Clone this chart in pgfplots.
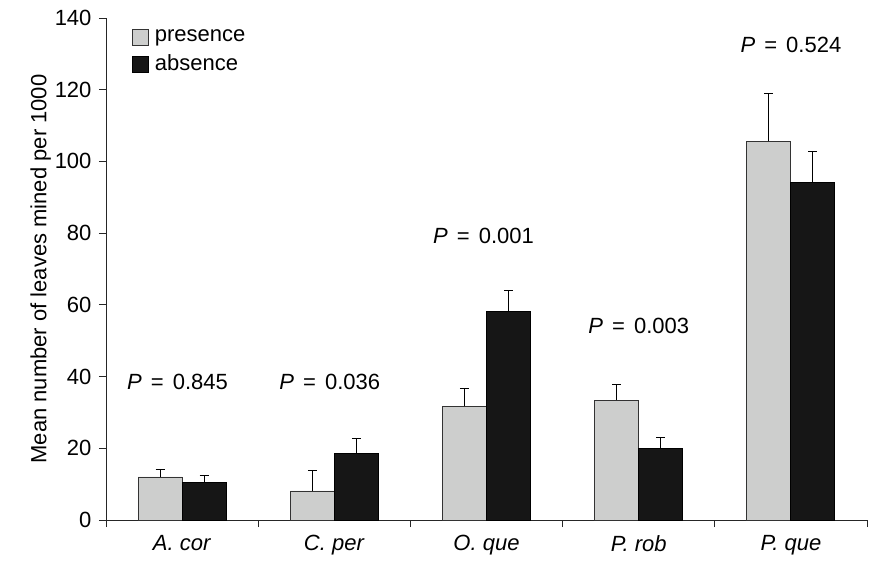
\documentclass[border=0pt]{standalone}
\usepackage{pgfplots}
\pgfplotsset{compat=1.18}
\usepackage{fontspec}
\setmainfont{Liberation Sans}
\definecolor{pres}{HTML}{CDCECD}
\definecolor{absc}{HTML}{161616}
\newcommand{\Pv}[1]{\textit{P}\hspace{3bp} = \hspace{3bp}#1}
\begin{document}
\fontsize{22bp}{26bp}\selectfont
\begin{tikzpicture}
\begin{axis}[
  scale only axis, width=761bp, height=502bp,
  xmin=-0.5, xmax=4.5, ymin=0, ymax=140,
  axis lines=left, axis line style={-, line width=0.9bp, color=black!85},
  ytick={0,20,...,140},
  tick align=outside, major tick length=7bp,
  tick style={line width=0.9bp, color=black!85},
  xtick={-0.5,0.5,...,4.5}, xticklabels={},
  extra x ticks={0,1,2,3,4},
  extra x tick labels={\textit{A. cor},\textit{C. per},\textit{O. que},\textit{P. rob},\textit{P. que}},
  extra x tick style={major tick length=0pt, xticklabel style={yshift=-8bp}},
  ylabel={Mean number of leaves mined per 1000},
  ylabel style={yshift=-11bp},
  ybar=0pt, bar width=44bp,
  /pgf/number format/assume math mode=true,
  tick label style={font=\fontsize{22bp}{26bp}\selectfont},
  label style={font=\fontsize{22bp}{26bp}\selectfont},
  legend style={at={(rel axis cs:0.03,0.985)}, anchor=north west, draw=none, fill=none,
    font=\fontsize{22bp}{26bp}\selectfont, row sep=6bp},
  legend cell align=left,
  legend image code/.code={\draw[#1, line width=0.9bp] (0bp,-8bp) rectangle (16bp,8bp); \path (20bp,0bp);},
  error bars/y dir=plus, error bars/y explicit,
  error bars/error mark=-,
  error bars/error bar style={line width=1bp, black},
  error bars/error mark options={rotate=90, line width=1bp, mark size=4.5bp, black},
  clip=false,
]
\addplot[fill=pres, draw=black!80, line width=0.9bp] coordinates {
  (0,12.0) +- (0,2.2)
  (1,8.1) +- (0,5.8)
  (2,31.7) +- (0,4.9)
  (3,33.4) +- (0,4.5)
  (4,105.6) +- (0,13.3)
};
\addplot[fill=absc, draw=black, line width=0.9bp] coordinates {
  (0,10.5) +- (0,1.9)
  (1,18.5) +- (0,4.2)
  (2,58.1) +- (0,6.0)
  (3,20.0) +- (0,3.0)
  (4,94.0) +- (0,8.8)
};
\legend{presence, absence}
\node at (axis cs:-0.03,38.5) {\Pv{0.845}};
\node at (axis cs:0.97,38.5) {\Pv{0.036}};
\node at (axis cs:1.98,79.2) {\Pv{0.001}};
\node at (axis cs:3.0,54.1) {\Pv{0.003}};
\node at (axis cs:4.0,132.5) {\Pv{0.524}};
\end{axis}
\pgfresetboundingbox
\path (current axis.south west) ++(-106bp,-48bp) rectangle ++(869bp,568bp);
\end{tikzpicture}
\end{document}
